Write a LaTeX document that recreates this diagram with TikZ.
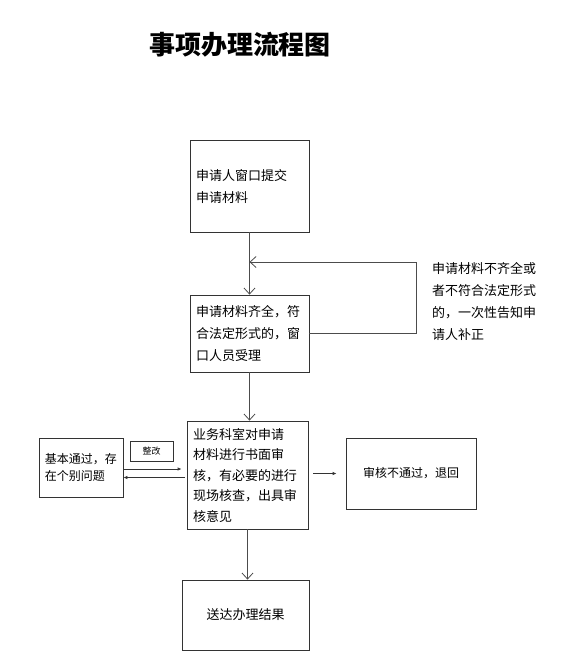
\documentclass[tikz,border=0pt]{standalone}
\usepackage{fontspec}
\newfontfamily\cjk{Noto Sans CJK SC}
\usetikzlibrary{arrows.meta}

\tikzset{
    boite/.style={draw=black!80, line width=0.8pt, inner xsep=6pt, inner ysep=0pt, align=left},
    fleche/.style={draw=black!70, line width=0.8pt, -{Straight Barb[length=6pt,width=11pt]}},
    petite/.style={draw=black!80, line width=0.8pt, -{Latex[length=4pt,width=3.5pt]}},
    texte/.style={font=\cjk\fontsize{13}{22}\selectfont}
}

\begin{document}
\begin{tikzpicture}[x=1pt,y=1pt]

\useasboundingbox (0,0) rectangle (574,-665);

% Titre
\node[font=\cjk\bfseries\fontsize{26}{30}\selectfont] (titre) at (240,-45) {事项办理流程图};

% Colonne principale
\node[boite, texte, text width=107pt, minimum height=92pt] (depot) at (249.5,-186)
{申请人窗口提交\\申请材料};

\node[boite, texte, text width=107pt, minimum height=77pt] (accepte) at (249.5,-333.5)
{申请材料齐全，符\\合法定形式的，窗\\口人员受理};

\node[boite, font=\cjk\fontsize{13}{20.5}\selectfont, text width=109pt, minimum height=108pt] (examen) at (247.5,-475)
{业务科室对申请\\材料进行书面审\\核，有必要的进行\\现场核查，出具审\\核意见};

\node[boite, texte, align=center, minimum width=127pt, minimum height=70pt] (resultat) at (245.5,-615)
{送达办理结果};

% Retour pour complement
\node[texte, inner sep=0pt, anchor=west, align=left] (remarque) at (432,-301.5)
{申请材料不齐全或\\者不符合法定形式\\的，一次性告知申\\请人补正};

\coordinate (retourHaut) at (416,-262);
\coordinate (retourFin) at (249.5,-262);

% Cotes gauche et droit
\node[boite, font=\cjk\fontsize{12}{17}\selectfont, text width=72pt, minimum height=59pt] (partiel) at (81,-467.5)
{基本通过，存\\在个别问题};

\node[boite, font=\cjk\fontsize{9}{10}\selectfont, align=center, inner sep=0pt, minimum width=43pt, minimum height=20pt] (rectif) at (151.5,-451)
{整改};

\node[boite, font=\cjk\fontsize{12}{14}\selectfont, align=center, minimum width=130pt, minimum height=71pt] (refus) at (411,-473.5)
{审核不通过，退回};

\coordinate (allerA) at ([yshift=-1.5pt]partiel.east);
\coordinate (retourB) at ([yshift=-10pt]partiel.east);

% Liaisons
\draw[fleche] (depot) -- (accepte);
\draw[fleche] (accepte.south) -- (accepte.south |- examen.north);
\draw[fleche] (examen.south) -- (examen.south |- resultat.north);
\draw[fleche] (accepte.east) -| (retourHaut) -- (retourFin);

\draw[petite, shorten >=5pt] (allerA) -- (allerA -| examen.west);
\draw[petite, shorten <=2pt] (retourB -| examen.west) -- (retourB);
\draw[petite, shorten <=5pt, shorten >=9pt] (examen.east |- refus.west) -- (refus.west);

\end{tikzpicture}
\end{document}
